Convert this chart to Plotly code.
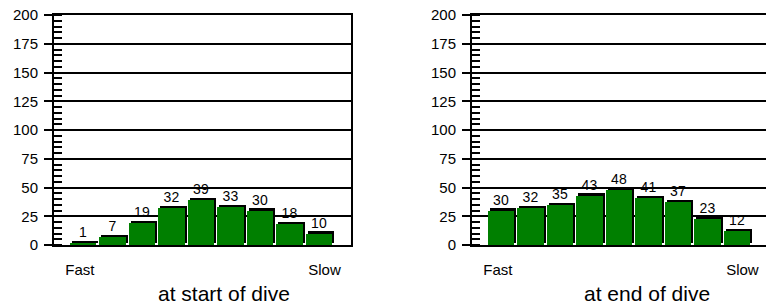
import plotly.graph_objects as go

# ---- data ----
bins = [0, 1, 2, 3, 4, 5, 6, 7, 8]
start_values = [1, 7, 19, 32, 39, 33, 30, 18, 10]
end_values = [30, 32, 35, 43, 48, 41, 37, 23, 12]
speed_labels = ["Fast", "Slow"]
speed_label_pos = [-0.16, 8.14]
panel_titles = ["at start of dive", "at end of dive"]
y_ticks = [0, 25, 50, 75, 100, 125, 150, 175, 200]

W, H = 766, 306
FONT = "Liberation Sans, Arial, sans-serif"
GREEN = "#007f00"
SHADOW_DY = 1.8

def px(xp):
    return xp / W

fig = go.Figure()

def add_panel(values, xa, ya):
    # shadow (black, offset right/up)
    fig.add_trace(go.Bar(
        x=bins, y=values, base=SHADOW_DY, offset=-0.43, width=0.9,
        marker=dict(color="black", line=dict(width=0)),
        xaxis=xa, yaxis=ya, hoverinfo="skip", showlegend=False))
    # green bar with value label
    fig.add_trace(go.Bar(
        x=bins, y=values, offset=-0.5, width=0.9,
        marker=dict(color=GREEN, line=dict(width=0)),
        text=[str(v) for v in values], textposition="outside",
        textfont=dict(family=FONT, size=14, color="black"),
        cliponaxis=False, constraintext="none",
        xaxis=xa, yaxis=ya, showlegend=False))

add_panel(start_values, "x", "y")
add_panel(end_values, "x2", "y2")

def xaxis_cfg(domain, rng, mirror, anchor):
    return dict(domain=domain, range=rng, anchor=anchor,
                tickvals=speed_label_pos, ticktext=speed_labels,
                ticks="", showgrid=False, zeroline=False,
                showline=True, linecolor="black", linewidth=2, mirror=mirror,
                tickfont=dict(family=FONT, size=15, color="black"),
                ticklabelstandoff=10, ticklabeloverflow="allow", fixedrange=True)

def yaxis_cfg(anchor, mirror):
    return dict(domain=[0, 1], range=[0, 200], anchor=anchor, tickvals=y_ticks,
                ticks="outside", ticklen=8, tickwidth=2, tickcolor="black",
                showgrid=True, gridcolor="black", gridwidth=2,
                zeroline=False, showline=True, linecolor="black", linewidth=2, mirror=mirror,
                tickfont=dict(family=FONT, size=15, color="black"),
                ticklabelstandoff=3, ticklabeloverflow="allow",
                minor=dict(dtick=5, ticks="inside", ticklen=8, tickwidth=1.5,
                           tickcolor="black", showgrid=False),
                fixedrange=True)

fig.update_layout(
    width=W, height=H,
    margin=dict(l=0, r=0, t=15, b=306 - 245, autoexpand=False),
    paper_bgcolor="white", plot_bgcolor="white",
    barmode="overlay", bargap=0,
    xaxis=xaxis_cfg([px(54), px(351)], [-1.04, 9.04], "all", "y"),
    yaxis=yaxis_cfg("x", True),
    xaxis2=xaxis_cfg([px(472), 1.0], [-1.04, 8.94], True, "y2"),
    yaxis2=yaxis_cfg("x2", False),
    showlegend=False,
)

for title, xc in zip(panel_titles, [224, 646.5]):
    fig.add_annotation(text=title, xref="paper", yref="paper", x=px(xc), y=(245 - 293) / 230,
                       xanchor="center", yanchor="middle", showarrow=False,
                       font=dict(family=FONT, size=21, color="black"))

fig.write_html("out.html", config={"displayModeBar": False},
               post_script="document.body.style.margin='0';document.body.style.overflow='hidden';")
